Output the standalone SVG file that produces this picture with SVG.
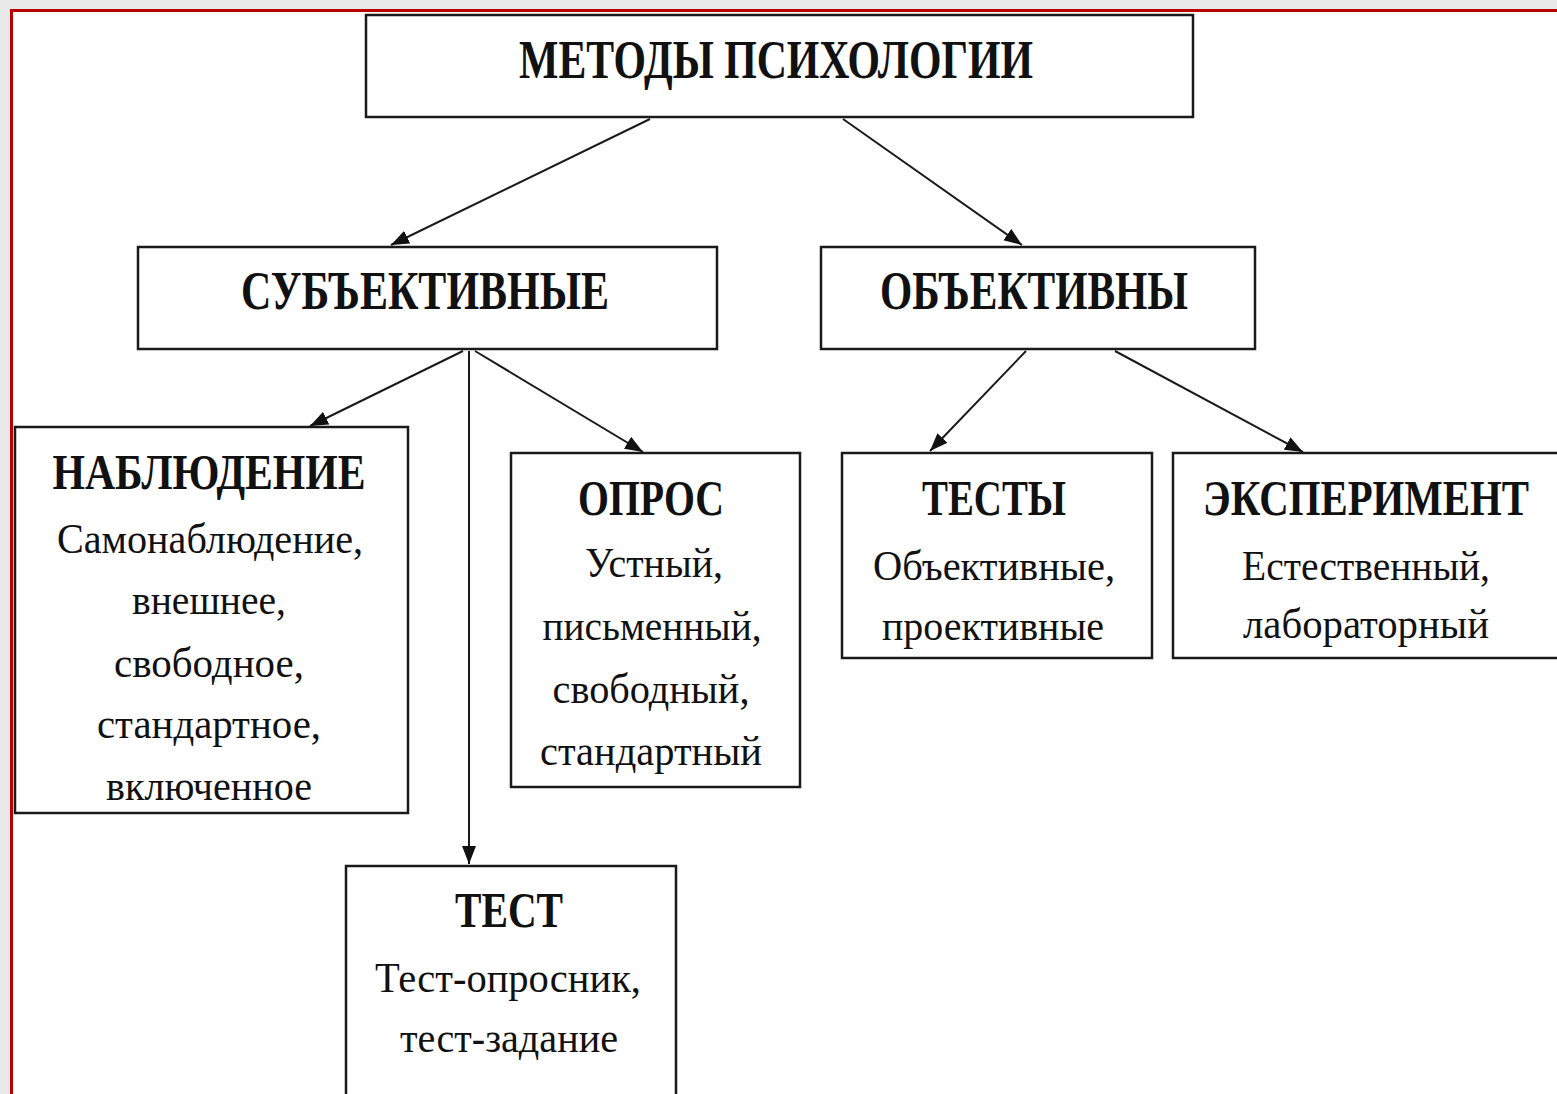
<svg xmlns="http://www.w3.org/2000/svg" width="1557" height="1094" viewBox="0 0 1557 1094">
<defs>
<style>
.box{fill:#fff;stroke:#1a1a1a;stroke-width:2.5}
.t{font-family:"Liberation Serif","Times New Roman",serif;fill:#111;text-anchor:middle}
.h{font-weight:bold;font-size:50px}
.b{font-size:42px}
.c{stroke:#1a1a1a;stroke-width:2;fill:none;marker-end:url(#ah)}
</style>
<marker id="ah" viewBox="0 0 18 14" refX="18" refY="7" markerWidth="18" markerHeight="14" markerUnits="userSpaceOnUse" orient="auto">
<path d="M0,0 L18,7 L0,14 Z" fill="#111"/>
</marker>
</defs>
<rect x="0" y="0" width="1557" height="1094" fill="#e9e9e9"/>
<rect x="11.5" y="10.5" width="1560" height="1100" fill="#fff" stroke="#b80000" stroke-width="3"/>

<g id="connectors">
<line class="c" x1="650" y1="119" x2="391" y2="245"/>
<line class="c" x1="843" y1="119" x2="1022" y2="245"/>
<line class="c" x1="463" y1="351" x2="310" y2="426"/>
<line class="c" x1="469" y1="351" x2="469" y2="864"/>
<line class="c" x1="475" y1="351" x2="643" y2="452"/>
<line class="c" x1="1026" y1="351" x2="930" y2="451"/>
<line class="c" x1="1115" y1="351" x2="1303" y2="452"/>
</g>

<g id="node-root">
<rect class="box" x="366" y="15" width="827" height="102"/>
<text class="t h" x="776" y="78" style="font-size:54px" textLength="514" lengthAdjust="spacingAndGlyphs">МЕТОДЫ ПСИХОЛОГИИ</text>
</g>

<g id="node-subj">
<rect class="box" x="138" y="247" width="579" height="102"/>
<text class="t h" x="425" y="309" style="font-size:54px" textLength="368" lengthAdjust="spacingAndGlyphs">СУБЪЕКТИВНЫЕ</text>
</g>

<g id="node-obj">
<rect class="box" x="821" y="247" width="434" height="102"/>
<text class="t h" x="1034" y="309" style="font-size:54px" textLength="308" lengthAdjust="spacingAndGlyphs">ОБЪЕКТИВНЫ</text>
</g>

<g id="node-observation">
<rect class="box" x="15" y="427" width="393" height="386"/>
<text class="t h" x="209" y="489" textLength="313" lengthAdjust="spacingAndGlyphs">НАБЛЮДЕНИЕ</text>
<text class="t b" x="210" y="553" textLength="306" lengthAdjust="spacingAndGlyphs">Самонаблюдение,</text>
<text class="t b" x="209" y="614" textLength="154" lengthAdjust="spacingAndGlyphs">внешнее,</text>
<text class="t b" x="209" y="677" textLength="190" lengthAdjust="spacingAndGlyphs">свободное,</text>
<text class="t b" x="209" y="738" textLength="224" lengthAdjust="spacingAndGlyphs">стандартное,</text>
<text class="t b" x="209" y="800" textLength="206" lengthAdjust="spacingAndGlyphs">включенное</text>
</g>

<g id="node-survey">
<rect class="box" x="511" y="453" width="289" height="334"/>
<text class="t h" x="651" y="515" textLength="146" lengthAdjust="spacingAndGlyphs">ОПРОС</text>
<text class="t b" x="654" y="577" textLength="138" lengthAdjust="spacingAndGlyphs">Устный,</text>
<text class="t b" x="652" y="640" textLength="219" lengthAdjust="spacingAndGlyphs">письменный,</text>
<text class="t b" x="651" y="703" textLength="197" lengthAdjust="spacingAndGlyphs">свободный,</text>
<text class="t b" x="651" y="765" textLength="222" lengthAdjust="spacingAndGlyphs">стандартный</text>
</g>

<g id="node-test">
<rect class="box" x="346" y="866" width="330" height="240"/>
<text class="t h" x="509" y="927" textLength="108" lengthAdjust="spacingAndGlyphs">ТЕСТ</text>
<text class="t b" x="508" y="992" textLength="266" lengthAdjust="spacingAndGlyphs">Тест-опросник,</text>
<text class="t b" x="509" y="1052" textLength="218" lengthAdjust="spacingAndGlyphs">тест-задание</text>
</g>

<g id="node-tests">
<rect class="box" x="842" y="453" width="310" height="205"/>
<text class="t h" x="994" y="515" textLength="144" lengthAdjust="spacingAndGlyphs">ТЕСТЫ</text>
<text class="t b" x="994" y="580" textLength="242" lengthAdjust="spacingAndGlyphs">Объективные,</text>
<text class="t b" x="993" y="640" textLength="222" lengthAdjust="spacingAndGlyphs">проективные</text>
</g>

<g id="node-experiment">
<rect class="box" x="1173" y="453" width="386" height="205"/>
<text class="t h" x="1366" y="515" textLength="326" lengthAdjust="spacingAndGlyphs">ЭКСПЕРИМЕНТ</text>
<text class="t b" x="1366" y="580" textLength="248" lengthAdjust="spacingAndGlyphs">Естественный,</text>
<text class="t b" x="1366" y="638" textLength="246" lengthAdjust="spacingAndGlyphs">лабораторный</text>
</g>
</svg>
